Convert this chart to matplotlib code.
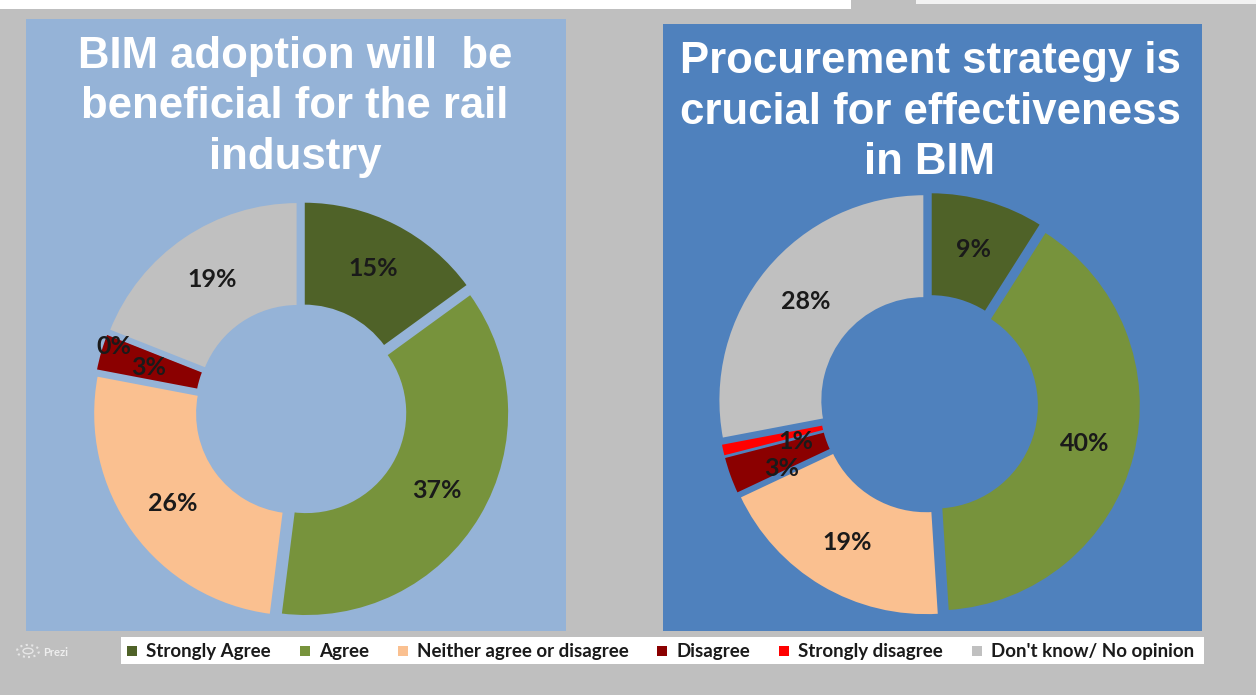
import matplotlib
matplotlib.use("Agg")
import matplotlib.pyplot as plt
from matplotlib.patches import Rectangle, Circle
import numpy as np

# ---------------- data ----------------
categories = ["Strongly Agree", "Agree", "Neither agree or disagree",
              "Disagree", "Strongly disagree", "Don't know/ No opinion"]
colors = ["#4f6228", "#77933c", "#fac090", "#8b0000", "#ff0000", "#c0c0c0"]

title_left = "BIM adoption will  be\nbeneficial for the rail\nindustry"
values_left = [15, 37, 26, 3, 0, 19]

title_right = "Procurement strategy is\ncrucial for effectiveness\nin BIM"
values_right = [9, 40, 19, 3, 1, 28]

W, H = 1256, 695
fig = plt.figure(figsize=(W / 100, H / 100), dpi=100)
fig.patch.set_facecolor("#bfbfbf")


def px_rect(x0, y0, x1, y1, color, z=-5):
    fig.patches.append(Rectangle((x0 / W, 1 - y1 / H), (x1 - x0) / W, (y1 - y0) / H,
                                 transform=fig.transFigure, facecolor=color,
                                 edgecolor="none", zorder=z))


# top strip remnants
px_rect(0, 0, 851, 9, "white")
px_rect(916, 0, 1256, 4, "#f2f2f2")

# panels
LEFT_BG = "#95b3d7"
RIGHT_BG = "#4f81bd"
px_rect(26, 19, 566, 631, LEFT_BG)
px_rect(663, 24, 1202, 631, RIGHT_BG)

# legend box
px_rect(121, 637, 1204, 664, "white")

TITLE_FONT = ["Liberation Sans", "DejaVu Sans"]
LABEL_FONT = ["Lato", "DejaVu Sans"]


def donut(cx, cy, rad, values, bg, title, tx, ty, label_adjust):
    size = 230
    # axes square of 2*size px centered at (cx, cy); 1 data unit = size px
    ax = fig.add_axes([(cx - size) / W, 1 - (cy + size) / H, 2 * size / W, 2 * size / H])
    ax.set_zorder(1)
    R = rad / size
    wedges, _, autotexts = ax.pie(
        values, colors=colors, startangle=90, counterclock=False,
        radius=R, explode=[6 / size] * len(values),
        wedgeprops=dict(width=104 / size, edgecolor=bg, linewidth=1.5),
        autopct=lambda p: f"{p:.0f}%", pctdistance=0.75,
        textprops=dict(fontsize=18, fontweight="bold", color="#1a1a1a",
                       family=LABEL_FONT))
    ax.set_xlim(-1, 1)
    ax.set_ylim(-1, 1)
    ax.set_aspect("equal")
    ax.axis("off")
    for i, (dx, dy) in label_adjust.items():
        x, y = autotexts[i].get_position()
        autotexts[i].set_position((x + dx / size, y + dy / size))
    fig.text(tx / W, 1 - ty / H, title, ha="center", va="center",
             fontsize=31.5, fontweight="bold", color="white",
             family=TITLE_FONT, linespacing=1.3)


donut(301, 410, 203, values_left, LEFT_BG, title_left, 295, 107,
      {4: (-40, 5), 3: (0, -2)})
donut(929, 404, 206, values_right, RIGHT_BG, title_right, 930, 112,
      {4: (24, -2), 3: (4, -10)})

# legend (flowing layout)
renderer = fig.canvas.get_renderer()
x = 127
ymid = 651
for cat, col in zip(categories, colors):
    px_rect(x, ymid - 5, x + 10, ymid + 5, col, z=2)
    t = fig.text((x + 19) / W, 1 - (ymid + 1) / H, cat, ha="left", va="center",
                 fontsize=13.5, fontweight="bold", color="#1a1a1a", family=LABEL_FONT)
    bb = t.get_window_extent(renderer)
    x = bb.x1 + 29

# Prezi watermark
fig.patches.append(Circle((28 / W, 1 - 651 / H), 11 / W, transform=fig.transFigure,
                          facecolor="none", edgecolor="#e6e6e6", linewidth=1.5,
                          linestyle=":", zorder=3))
fig.patches.append(Circle((28 / W, 1 - 651 / H), 5 / W, transform=fig.transFigure,
                          facecolor="none", edgecolor="#e6e6e6", linewidth=1.0,
                          zorder=3))
fig.text(43 / W, 1 - 652 / H, "Prezi", ha="left", va="center", fontsize=8,
         fontweight="bold", color="#eeeeee", family=LABEL_FONT)

fig.savefig("out.png", dpi=100, facecolor=fig.get_facecolor())
